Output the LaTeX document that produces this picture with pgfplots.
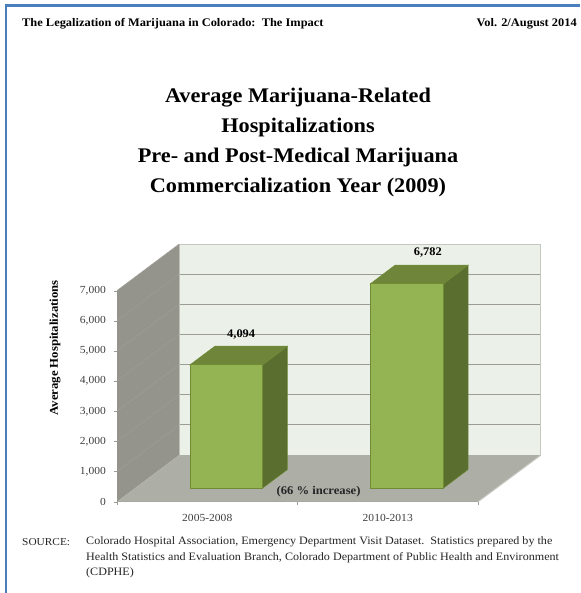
\documentclass[border=0pt]{standalone}
\usepackage{fontspec}
\setmainfont{Liberation Serif}[FakeStretch=1.07]
\usepackage{pgfplots}
\pgfplotsset{compat=1.18}

\definecolor{pageblue}{HTML}{4A7EBF}
\definecolor{wallback}{HTML}{EBF0E8}
\definecolor{wallleft}{HTML}{94948C}
\definecolor{floorgray}{HTML}{ADAFA7}
\definecolor{gridgray}{HTML}{9C9C94}
\definecolor{edgegray}{HTML}{C6C7C0}
\definecolor{barfront}{HTML}{94B352}
\definecolor{baredge}{HTML}{6F8C35}
\definecolor{bartop}{HTML}{6E853A}
\definecolor{barside}{HTML}{5A6E30}
\definecolor{ticktext}{HTML}{404040}

% all three axes share these: 1 x unit = 1pt = 1 pixel
\pgfplotsset{
  chartbox/.style={
    scale only axis,
    width=361pt,
    height=211pt,
    xmin=0, xmax=361,
    ymin=0, ymax=7000,
    clip=false,
    anchor=south west,
  },
}

\begin{document}
\begin{tikzpicture}
\path[use as bounding box] (0pt,0pt) rectangle (580pt,593pt);
\fill[white] (0pt,0pt) rectangle (580pt,593pt);
\fill[pageblue] (4.5pt,0pt) rectangle (6.6pt,588.5pt);
\fill[pageblue] (4.5pt,586.4pt) rectangle (580pt,588.5pt);

% header
\node[anchor=west, inner sep=0pt, font=\fontsize{11.6}{13}\selectfont\bfseries] at (22pt,569pt)
  {The Legalization of Marijuana in Colorado:\ \ The Impact};
\node[anchor=east, inner sep=0pt, font=\fontsize{11.6}{13}\selectfont\bfseries] at (577pt,569pt)
  {Vol. 2/August 2014};

% title
\node[align=center, font=\fontsize{20.8}{30}\selectfont\bfseries] at (298pt,450pt)
  {Average Marijuana-Related\\Hospitalizations\\Pre- and Post-Medical Marijuana\\Commercialization Year (2009)};

% back wall, shifted by the depth of the box
\begin{axis}[
  chartbox,
  at={(179pt,138pt)},
  axis background/.style={fill=wallback},
  axis line style={draw=edgegray},
  xtick=\empty,
  ytick={0,1000,2000,3000,4000,5000,6000,7000},
  yticklabels={},
  ytick style={draw=none},
  ymajorgrids,
  grid style={draw=gridgray, line width=0.8pt},
]
\end{axis}

% front frame: left wall, floor, ticks and labels
\begin{axis}[
  chartbox,
  at={(117pt,91.3pt)},
  axis x line=bottom,
  axis y line=left,
  axis line style={-, draw=gridgray, line width=1pt},
  tick align=outside,
  major tick length=3.5pt,
  /pgf/number format/assume math mode=true,
  /pgf/number format/1000 sep={,},
  ytick={0,1000,2000,3000,4000,5000,6000,7000},
  ytick style={draw=gridgray},
  xtick={90.25,270.75},
  xticklabels={2005-2008,2010-2013},
  xtick style={draw=none},
  extra x ticks={0,180.5,361},
  extra x tick labels={},
  extra x tick style={xtick style={draw=gridgray}},
  tick label style={font=\fontsize{10.8}{12}\selectfont, text=ticktext},
  yticklabel style={xshift=-4pt},
  xticklabel style={yshift=-6pt},
]
\addplot[fill=wallleft, draw=none] coordinates {(0,0) (62,1543) (62,8533) (0,7000)} -- cycle;
\addplot[fill=floorgray, draw=none] coordinates {(0,0) (361,0) (423.7,1543) (62,1543)} -- cycle;
\addplot[draw=edgegray, line width=1pt] coordinates {(361,0) (423.7,1543)};
\addplot[draw=gridgray, line width=0.7pt, unbounded coords=jump] coordinates {
  (0,1000) (62,2543) (0,nan)
  (0,2000) (62,3543) (0,nan)
  (0,3000) (62,4543) (0,nan)
  (0,4000) (62,5543) (0,nan)
  (0,5000) (62,6543) (0,nan)
  (0,6000) (62,7543) (0,nan)
  (0,7000) (62,8543)
};
\end{axis}

\node[rotate=90, inner sep=0pt, font=\fontsize{11.9}{13}\selectfont\bfseries] at (55pt,245pt) {Average Hospitalizations};

% bars stand on the floor, 13.4 px above the front edge
\begin{axis}[
  chartbox,
  at={(117pt,104.7pt)},
  hide axis,
  /pgf/number format/assume math mode=true,
  /pgf/number format/1000 sep={,},
]
% 2005-2008
\addplot[fill=barside, draw=baredge, line width=0.5pt] coordinates {(145.4,4094) (170.4,4714) (170.4,620) (145.4,0)} -- cycle;
\addplot[fill=bartop, draw=baredge, line width=0.5pt] coordinates {(72.9,4094) (145.4,4094) (170.4,4714) (97.9,4714)} -- cycle;
\addplot[ybar, bar width=72.5pt, bar shift=0pt, fill=barfront, draw=baredge, line width=0.8pt,
  nodes near coords,
  nodes near coords style={anchor=center, xshift=15pt, yshift=30.5pt, text=black, font=\fontsize{11.6}{13}\selectfont\bfseries}]
  coordinates {(109.15,4094)};
% 2010-2013
\addplot[fill=barside, draw=baredge, line width=0.5pt] coordinates {(326.3,6782) (351,7402) (351,620) (326.3,0)} -- cycle;
\addplot[fill=bartop, draw=baredge, line width=0.5pt] coordinates {(253.3,6782) (326.3,6782) (351,7402) (278,7402)} -- cycle;
\addplot[ybar, bar width=73pt, bar shift=0pt, fill=barfront, draw=baredge, line width=0.8pt,
  nodes near coords,
  nodes near coords style={anchor=center, xshift=21pt, yshift=31.5pt, text=black, font=\fontsize{11.6}{13}\selectfont\bfseries}]
  coordinates {(289.8,6782)};
\end{axis}

\node[font=\fontsize{11.8}{13}\selectfont\bfseries, text=black!85] at (318.5pt,101pt) {(66 \% increase)};

% source note
\node[anchor=base west, inner sep=0pt, font=\fontsize{10.6}{15.5}\selectfont, text=black!85] at (22pt,47pt) {SOURCE:};
\node[anchor=north west, align=left, inner sep=0pt, font=\fontsize{11.3}{15.5}\selectfont, text=black!85] at (86pt,56.5pt)
  {Colorado Hospital Association, Emergency Department Visit Dataset.\ \ Statistics prepared by the\\
   Health Statistics and Evaluation Branch, Colorado Department of Public Health and Environment\\
   (CDPHE)};
\end{tikzpicture}
\end{document}
